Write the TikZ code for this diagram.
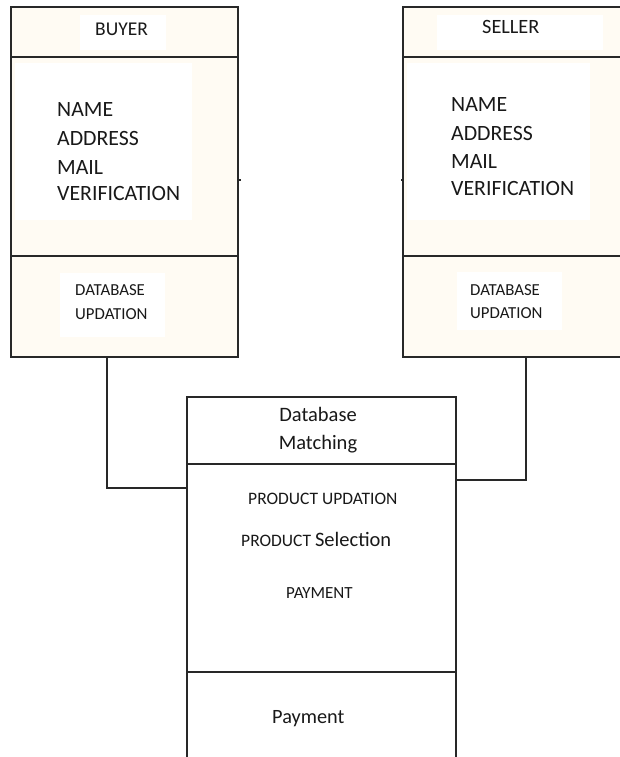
\documentclass[tikz,border=0pt]{standalone}
\usepackage{fontspec}
\setmainfont{Carlito}
\definecolor{cream}{RGB}{255,251,243}
\definecolor{edge}{RGB}{40,40,40}
\definecolor{ink}{RGB}{25,25,25}
\begin{document}
\begin{tikzpicture}[x=1pt,y=-1pt,
  cell/.style={draw=edge, line width=1.3pt, fill=cream, anchor=north west,
    inner sep=0pt, outer sep=0pt},
  wcell/.style={cell, fill=white},
  patch/.style={fill=white, draw=none},
  txt/.style={anchor=base west, inner sep=0pt, text=ink},
  link/.style={draw=edge, line width=1.3pt}]
\clip (0,0) rectangle (620,757);
\fill[white] (0,0) rectangle (620,757);

% ---- Buyer entity ----
\node[cell, minimum width=227pt, minimum height=50pt]  (bhead) at (11,7)   {};
\node[cell, minimum width=227pt, minimum height=199pt] (bbody) at (11,57)  {};
\node[cell, minimum width=227pt, minimum height=101pt] (bfoot) at (11,256) {};
\fill[patch] (80,15) rectangle (166,50);
\fill[patch] (15,63) rectangle (192,220);
\fill[patch] (60,273) rectangle (165,337);
\draw[edge, line width=1.3pt] (bhead.north west) rectangle (bfoot.south east);
\draw[edge, line width=1.3pt] (bhead.south west) -- (bhead.south east);
\draw[edge, line width=1.3pt] (bfoot.north west) -- (bfoot.north east);

% ---- Seller entity ----
\node[cell, minimum width=227pt, minimum height=50pt]  (shead) at (403,7)   {};
\node[cell, minimum width=227pt, minimum height=199pt] (sbody) at (403,57)  {};
\node[cell, minimum width=227pt, minimum height=101pt] (sfoot) at (403,256) {};
\fill[patch] (437,15) rectangle (603,50);
\fill[patch] (407,63) rectangle (590,220);
\fill[patch] (457,272) rectangle (562,330);
\draw[edge, line width=1.3pt] (shead.north west) rectangle (sfoot.south east);
\draw[edge, line width=1.3pt] (shead.south west) -- (shead.south east);
\draw[edge, line width=1.3pt] (sfoot.north west) -- (sfoot.north east);

% ---- Database matching entity ----
\node[wcell, minimum width=269pt, minimum height=67pt]  (mhead) at (187,397) {};
\node[wcell, minimum width=269pt, minimum height=208pt] (mmid)  at (187,464) {};
\node[wcell, minimum width=269pt, minimum height=118pt] (mfoot) at (187,672) {};

% ---- Texts ----
\node[txt, font=\fontsize{19.5}{23}\selectfont] (tbuyer) at (95,36) {BUYER};
\node[txt, font=\fontsize{21.8}{26}\selectfont] (tb1) at (57,117) {NAME};
\node[txt, font=\fontsize{21.8}{26}\selectfont] (tb2) at (57,145) {ADDRESS};
\node[txt, font=\fontsize{21.8}{26}\selectfont] (tb3) at (57,174) {MAIL};
\node[txt, font=\fontsize{21.8}{26}\selectfont] (tb4) at (57,200) {VERIFICATION};
\node[txt, font=\fontsize{16.8}{20}\selectfont] (tb5) at (75,295) {DATABASE};
\node[txt, font=\fontsize{16.8}{20}\selectfont] (tb6) at (75,319) {UPDATION};

\node[txt, font=\fontsize{20.3}{24}\selectfont] (tseller) at (482,34) {SELLER};
\node[txt, font=\fontsize{21.8}{26}\selectfont] (ts1) at (451,112) {NAME};
\node[txt, font=\fontsize{21.8}{26}\selectfont] (ts2) at (451,140) {ADDRESS};
\node[txt, font=\fontsize{21.8}{26}\selectfont] (ts3) at (451,168) {MAIL};
\node[txt, font=\fontsize{21.8}{26}\selectfont] (ts4) at (451,195) {VERIFICATION};
\node[txt, font=\fontsize{16.8}{20}\selectfont] (ts5) at (470,295) {DATABASE};
\node[txt, font=\fontsize{16.8}{20}\selectfont] (ts6) at (470,318) {UPDATION};

\node[txt, anchor=base, font=\fontsize{20.5}{24}\selectfont] (tm1) at (318,421) {Database};
\node[txt, anchor=base, font=\fontsize{20.5}{24}\selectfont] (tm2) at (318,449) {Matching};
\node[txt, font=\fontsize{17.5}{21}\selectfont] (tm3) at (248,504) {PRODUCT UPDATION};
\node[txt, font=\fontsize{17.5}{21}\selectfont] (tm4) at (241,546)
  {PRODUCT {\fontsize{20.5}{24}\selectfont Selection}};
\node[txt, font=\fontsize{17}{21}\selectfont] (tm5) at (286,598) {PAYMENT};
\node[txt, font=\fontsize{20.3}{24}\selectfont] (tm6) at (272,723) {Payment};

% ---- Connectors ----
\draw[link] (bfoot.south -| 107,0) |- (mmid.west |- 0,488);
\draw[link] (sfoot.south -| 526,0) |- (mmid.east |- 0,480);

% small ticks on the facing sides
\draw[edge, line width=1.2pt] (bbody.east |- 0,180) -- ++(3,0);
\draw[edge, line width=1.2pt] (sbody.west |- 0,180) -- ++(-2,0);
\end{tikzpicture}
\end{document}
